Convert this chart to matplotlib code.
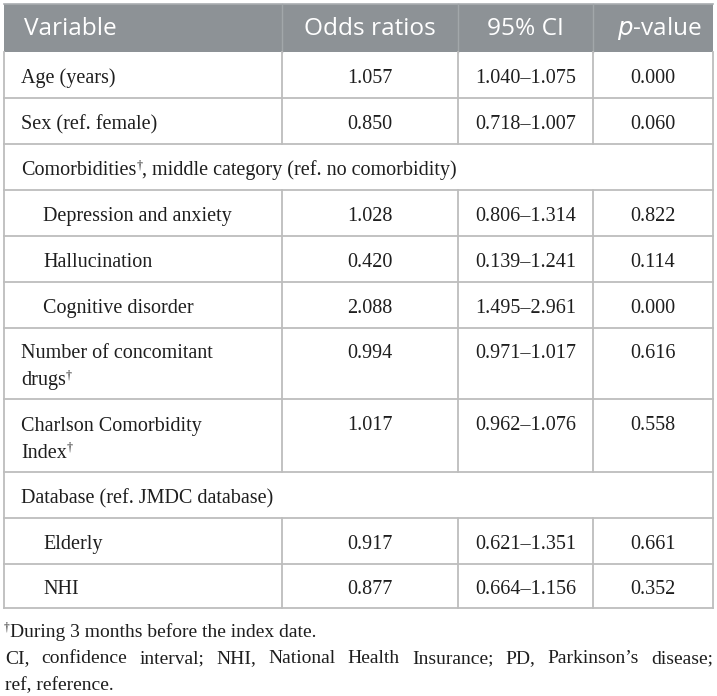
import matplotlib
matplotlib.use("Agg")
import matplotlib.pyplot as plt
from matplotlib.patches import Rectangle

# table content
headers = ["Variable", "Odds ratios", "95% CI", "p-value"]
variables = ["Age (years)", "Sex (ref. female)",
             "Comorbidities†, middle category (ref. no comorbidity)",
             "Depression and anxiety", "Hallucination", "Cognitive disorder",
             "Number of concomitant\ndrugs†", "Charlson Comorbidity\nIndex†",
             "Database (ref. JMDC database)", "Elderly", "NHI"]
odds = ["1.057", "0.850", None, "1.028", "0.420", "2.088", "0.994", "1.017",
        None, "0.917", "0.877"]
ci = ["1.040–1.075", "0.718–1.007", None, "0.806–1.314", "0.139–1.241",
      "1.495–2.961", "0.971–1.017", "0.962–1.076", None, "0.621–1.351",
      "0.664–1.156"]
pvals = ["0.000", "0.060", None, "0.822", "0.114", "0.000", "0.616", "0.558",
         None, "0.661", "0.352"]
indent = [0, 0, 0, 1, 1, 1, 0, 0, 0, 1, 1]
footnotes = ["†During 3 months before the index date.",
             "CI, confidence interval; NHI, National Health Insurance; PD, Parkinson’s disease;",
             "ref, reference."]

# layout in pixels
W, H = 717, 696
col_x = [4, 282, 458, 593, 713]
head_top, head_bot = 4, 52
row_edges = [52, 98, 144, 190, 236, 282, 328, 399, 472, 518, 564, 608]
grid_col = "#bdbdbd"
head_col = "#8d9296"
txt_col = "#1e1e1e"
serif = "Liberation Serif"
body_pt = 14.5
foot_pt = 14.0
line_gap = 27

fig = plt.figure(figsize=(W / 100, H / 100), dpi=100)
ax = fig.add_axes([0, 0, 1, 1])
ax.set_xlim(0, W)
ax.set_ylim(H, 0)
ax.axis("off")
renderer = fig.canvas.get_renderer()


def text_width(t):
    bb = t.get_window_extent(renderer=renderer)
    return bb.width


def rich(x, y, s, size=body_pt, ha="left"):
    # draw text with superscript daggers, baseline at y
    parts = s.split("†")
    pieces = []
    for i, p in enumerate(parts):
        if p:
            pieces.append((p, size, 0))
        if i < len(parts) - 1:
            pieces.append(("†", size * 0.6, -7))
    arts = [ax.text(0, 0, p, fontsize=sz, family=serif, color=txt_col,
                    va="baseline") for p, sz, dy in pieces]
    widths = [text_width(a) for a in arts]
    total = sum(widths)
    cx = x - total / 2 if ha == "center" else x
    for a, w, (p, sz, dy) in zip(arts, widths, pieces):
        a.set_position((cx, y + dy))
        cx += w


def justify(x0, x1, y, s, size=foot_pt):
    words = s.split(" ")
    arts = [ax.text(0, y, w, fontsize=size, family=serif, color=txt_col,
                    va="baseline") for w in words]
    widths = [text_width(a) for a in arts]
    gap = (x1 - x0 - sum(widths)) / (len(words) - 1)
    cx = x0
    for a, w in zip(arts, widths):
        a.set_x(cx)
        cx += w + gap


# header
ax.add_patch(Rectangle((col_x[0], head_top), col_x[-1] - col_x[0],
                       head_bot - head_top, facecolor=head_col,
                       edgecolor="none", zorder=0))
ax.plot([col_x[0], col_x[-1]], [head_top, head_top], color="#a9adb0", lw=1.2)
for cx in col_x[1:-1]:
    ax.plot([cx, cx], [head_top, head_bot], color="#a2a7aa", lw=1.0)
hy = (head_top + head_bot) / 2 + 1
hpt = 17.6
ax.text(24, hy, headers[0], fontsize=hpt, family="Open Sans", color="white",
        va="center", ha="left")
ax.text((col_x[1] + col_x[2]) / 2, hy, headers[1], fontsize=hpt,
        family="Open Sans", color="white", va="center", ha="center")
ax.text((col_x[2] + col_x[3]) / 2, hy, headers[2], fontsize=hpt,
        family="Open Sans", color="white", va="center", ha="center")
ax.text((col_x[3] + col_x[4]) / 2 + 6, hy,
        r"$\mathit{p}$" + "-value", fontsize=hpt, family="Open Sans",
        color="white", va="center", ha="center")

# body rows
for i, var in enumerate(variables):
    top, bot = row_edges[i], row_edges[i + 1]
    lines = var.split("\n")
    if len(lines) == 1:
        base = (top + bot) / 2 + 8
    else:
        base = (top + bot) / 2 - 5
    x = 21 + 22 * indent[i]
    for k, ln in enumerate(lines):
        rich(x, base + k * line_gap, ln)
    vals = [odds[i], ci[i], pvals[i]]
    for j, v in enumerate(vals):
        if v is not None:
            rich((col_x[j + 1] + col_x[j + 2]) / 2, base, v, ha="center")
    # lines
    ax.plot([col_x[0], col_x[-1]], [bot, bot], color=grid_col, lw=1.3)
    span = odds[i] is None
    ax.plot([col_x[0], col_x[0]], [top, bot], color=grid_col, lw=1.3)
    ax.plot([col_x[-1], col_x[-1]], [top, bot], color=grid_col, lw=1.3)
    if not span:
        for cx in col_x[1:-1]:
            ax.plot([cx, cx], [top, bot], color=grid_col, lw=1.3)

# footnotes
rich(4, 637, footnotes[0], size=foot_pt)
justify(5, 713, 663, footnotes[1])
rich(5, 690, footnotes[2], size=foot_pt)

fig.savefig("out.png", dpi=100)
